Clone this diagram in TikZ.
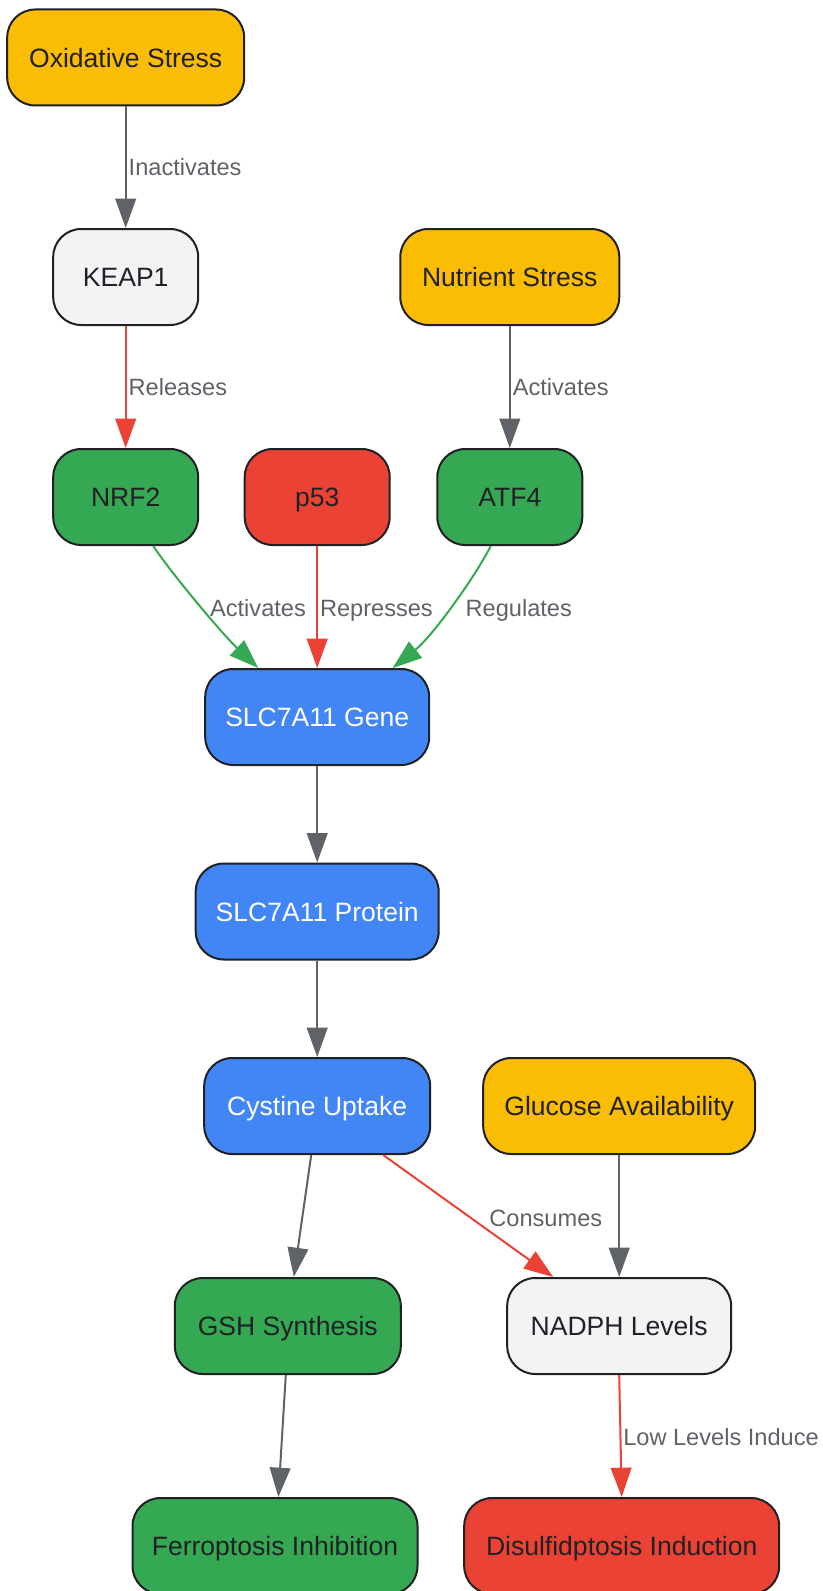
\documentclass[tikz,border=0pt]{standalone}
\usepackage{fontspec}
\setmainfont{Liberation Sans}
\usetikzlibrary{arrows.meta}
\definecolor{cyellow}{HTML}{FBBC04}
\definecolor{cgreen}{HTML}{34A853}
\definecolor{cred}{HTML}{EA4335}
\definecolor{cblue}{HTML}{4285F4}
\definecolor{clight}{HTML}{F1F3F4}
\definecolor{cborder}{HTML}{202124}
\definecolor{cgray}{HTML}{5F6368}
\definecolor{ctext}{HTML}{202124}
\tikzset{
  box/.style={draw=cborder, line width=1.5pt, rounded corners=21pt, minimum height=72pt,
    inner sep=0pt, align=center, text=ctext, text height=14.3pt, text depth=0pt,
    font=\fontsize{19.9pt}{24pt}\selectfont},
  ybox/.style={box, fill=cyellow},
  gbox/.style={box, fill=cgreen},
  rbox/.style={box, fill=cred},
  bbox/.style={box, fill=cblue, text=white},
  lbox/.style={box, fill=clight},
  edge/.style={line width=1.5pt, draw=cgray, -{Triangle[length=22pt,width=15.5pt]}},
  redge/.style={edge, draw=cred, -{Triangle[length=22pt,width=15.5pt,fill=cred]}},
  gedge/.style={edge, draw=cgreen, -{Triangle[length=22pt,width=15.5pt,fill=cgreen]}},
  elabel/.style={text=cgray, inner sep=0pt, text height=12.7pt, text depth=0pt,
    font=\fontsize{17.7pt}{21pt}\selectfont},
}
\begin{document}
\begin{tikzpicture}[x=0.75pt, y=-0.75pt]
\useasboundingbox (0,0) rectangle (823,1591);
\node[ybox, minimum width=177.75pt] (ox) at (125.7,57.5) {Oxidative Stress};
\node[lbox, minimum width=108.75pt] (keap) at (125.7,277) {KEAP1};
\node[ybox, minimum width=164.25pt] (nut) at (509.8,277) {Nutrient Stress};
\node[gbox, minimum width=108.75pt] (nrf) at (125.7,497) {NRF2};
\node[rbox, minimum width=108.75pt] (p53) at (317.2,497) {p53};
\node[gbox, minimum width=108.75pt] (atf) at (509.8,497) {ATF4};
\node[bbox, minimum width=168pt] (gene) at (317.2,717) {SLC7A11 Gene};
\node[bbox, minimum width=182.25pt] (prot) at (317.2,911.5) {SLC7A11 Protein};
\node[bbox, minimum width=169.5pt] (cyst) at (317.2,1106) {Cystine Uptake};
\node[ybox, minimum width=204pt] (gluc) at (619.2,1106) {Glucose Availability};
\node[gbox, minimum width=169.5pt] (gsh) at (287.8,1326) {GSH Synthesis};
\node[lbox, minimum width=168pt] (nadph) at (619.2,1326) {NADPH Levels};
\node[gbox, minimum width=213.75pt] (ferro) at (275,1546) {Ferroptosis Inhibition};
\node[rbox, minimum width=236.25pt] (disul) at (621.7,1546) {Disulfidptosis Induction};

\draw[edge] (ox) -- node[elabel, anchor=west, xshift=1.5pt] (l1) {Inactivates} (keap);
\draw[redge] (keap) -- node[elabel, anchor=west, xshift=1.5pt] (l2) {Releases} (nrf);
\draw[edge] (nut) -- node[elabel, anchor=west, xshift=1.5pt] (l3) {Activates} (atf);
\draw[gedge] ([xshift=20.7pt]nrf.south) .. controls +(20,30) and +(-35,-33) .. ([xshift=-44.2pt]gene.north);
\draw[redge] (p53) -- (gene);
\draw[gedge] ([xshift=-14.3pt]atf.south) .. controls +(-15,30) and +(40,-32) .. ([xshift=56.6pt]gene.north);
\node[elabel] (l4) at (258,608) {Activates};
\node[elabel] (l5) at (376.4,608) {Represses};
\node[elabel] (l6) at (518.8,608) {Regulates};
\draw[edge] (gene) -- (prot);
\draw[edge] (prot) -- (cyst);
\draw[edge] ([xshift=-4.5pt]cyst.south) -- ([xshift=4.5pt]gsh.north);
\draw[redge] ([xshift=49.5pt]cyst.south) -- ([xshift=-49.5pt]nadph.north);
\node[elabel] (l7) at (545.8,1218) {Consumes};
\draw[edge] (gluc) -- (nadph);
\draw[edge] ([xshift=-1.5pt]gsh.south) -- ([xshift=2.5pt]ferro.north);
\draw[redge] (nadph.south) -- (disul.north);
\node[elabel, anchor=west] (l8) at (623,1437) {Low Levels Induce};
\end{tikzpicture}
\end{document}
